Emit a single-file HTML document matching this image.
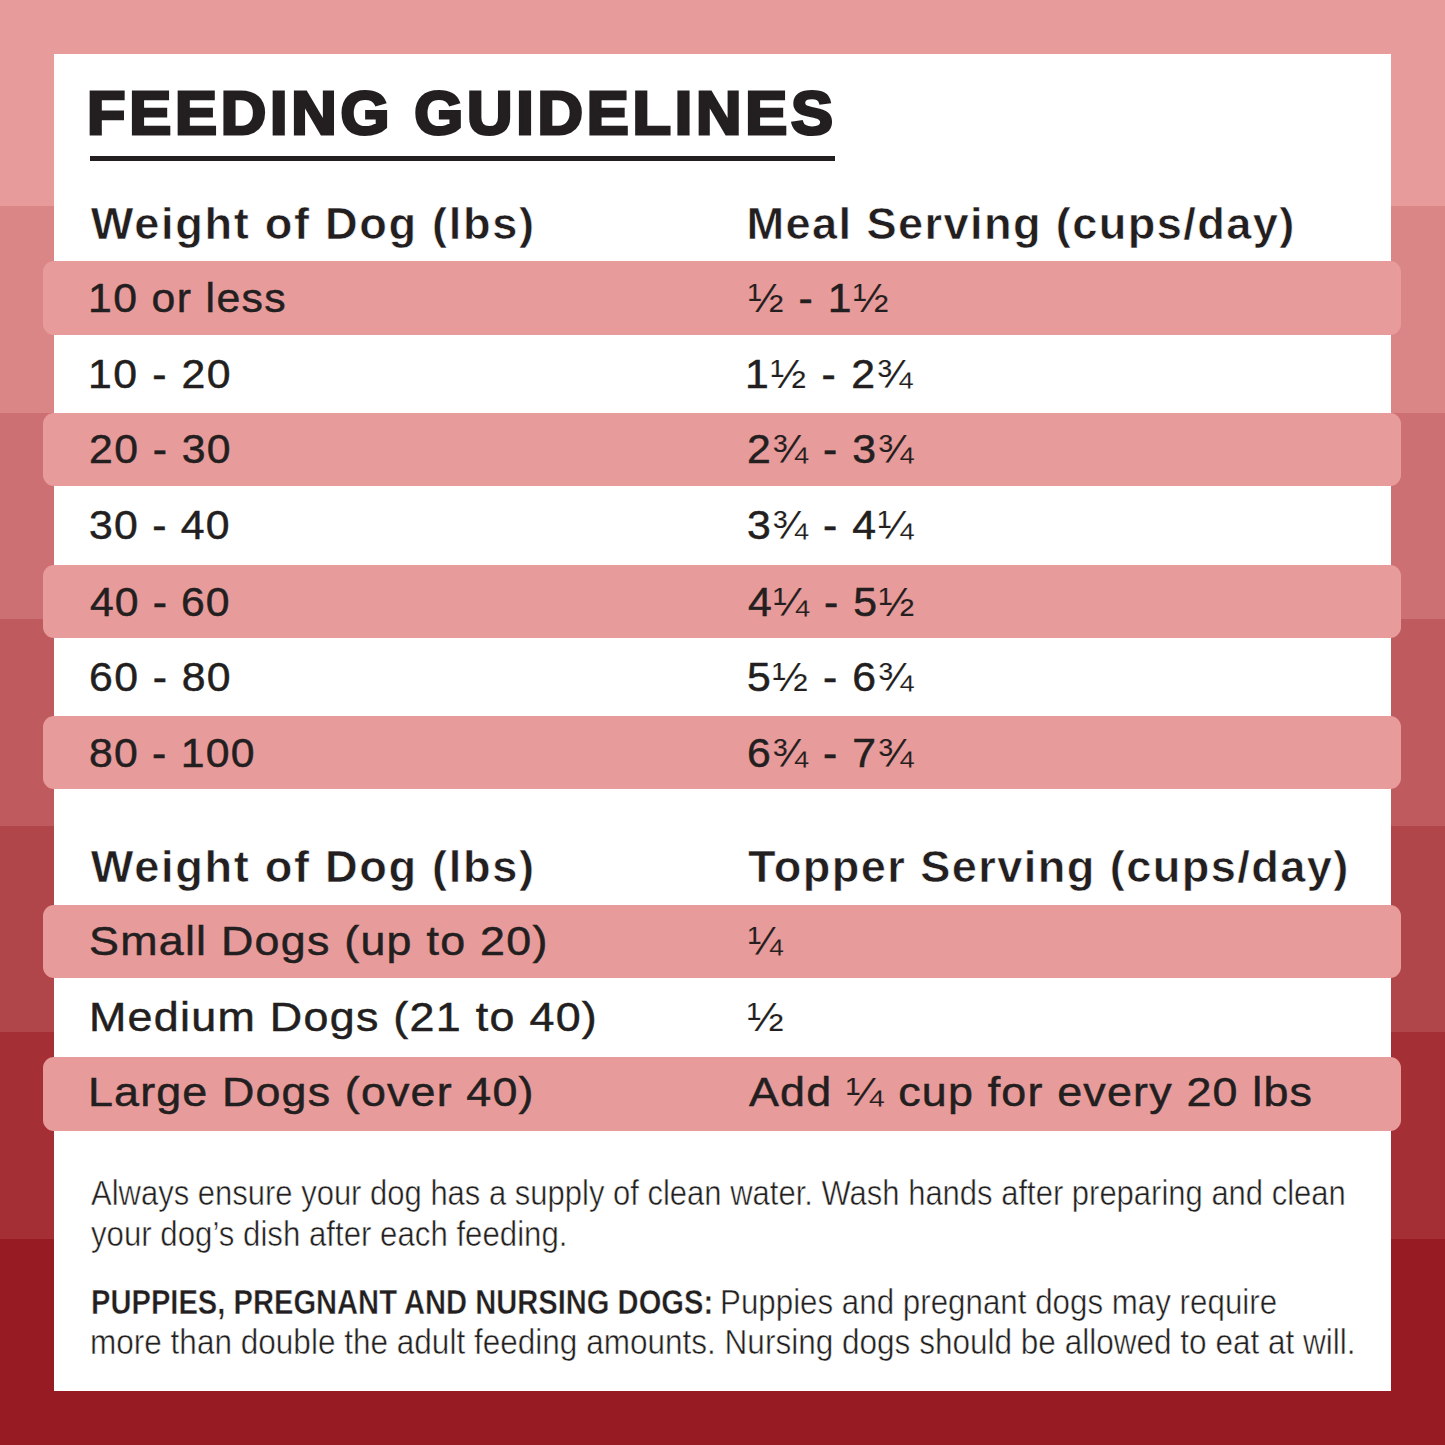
<!DOCTYPE html>
<html><head><meta charset="utf-8"><style>
html,body{margin:0;padding:0;}
body{width:1445px;height:1445px;position:relative;overflow:hidden;font-family:"Liberation Sans",sans-serif;}
.b{position:absolute;left:0;width:1445px;}
.card{position:absolute;left:54px;top:54px;width:1336.8px;height:1336.8px;background:#fff;}
.ul{position:absolute;left:90.4px;top:156px;width:745px;height:5px;background:#231f20;}
.row{position:absolute;left:43px;width:1358px;height:73.2px;border-radius:11px;background:#E89B9B;}
.t{position:absolute;white-space:nowrap;line-height:1;transform-origin:0 0;}
b{font-weight:700;}
</style></head><body>
<div class="b" style="top:0px;height:206px;background:#E89B9B"></div>
<div class="b" style="top:206px;height:207px;background:#DA8687"></div>
<div class="b" style="top:413px;height:206px;background:#CD7073"></div>
<div class="b" style="top:619px;height:207px;background:#BF5B5F"></div>
<div class="b" style="top:826px;height:206px;background:#B1464A"></div>
<div class="b" style="top:1032px;height:207px;background:#A43036"></div>
<div class="b" style="top:1239px;height:206px;background:#961B22"></div>
<div class="card"></div>
<div class="ul"></div>
<div class="row" style="top:261.4px"></div>
<div class="row" style="top:412.8px"></div>
<div class="row" style="top:564.6px"></div>
<div class="row" style="top:716.3px"></div>
<div class="row" style="top:904.5px"></div>
<div class="row" style="top:1057.4px"></div>
<div class="t" id="title" style="left:86.94px;top:82.66px;font-size:60.5px;font-weight:700;color:#231f20;transform:scaleX(1.0400);letter-spacing:3.632px;-webkit-text-stroke:3.0px #231f20;">FEEDING GUIDELINES</div>
<div class="t" id="h1l" style="left:90.80px;top:201.14px;font-size:45.2px;font-weight:700;color:#231f20;transform:scaleX(1.0000);letter-spacing:1.661px;-webkit-text-stroke:0.6px #fff;paint-order:fill stroke;">Weight of Dog (lbs)</div>
<div class="t" id="h1r" style="left:746.40px;top:201.14px;font-size:45.2px;font-weight:700;color:#231f20;transform:scaleX(1.0000);letter-spacing:1.395px;-webkit-text-stroke:0.6px #fff;paint-order:fill stroke;">Meal Serving (cups/day)</div>
<div class="t" id="r0l" style="left:87.58px;top:276.87px;font-size:41.5px;font-weight:400;color:#231f20;transform:scaleX(1.0300);letter-spacing:1.329px;-webkit-text-stroke:0.5px #231f20;">10 or less</div>
<div class="t" id="r0r" style="left:747.77px;top:276.87px;font-size:41.5px;font-weight:400;color:#231f20;transform:scaleX(1.0300);letter-spacing:1.487px;-webkit-text-stroke:0.5px #231f20;"><span style="-webkit-text-stroke:0.15px #E89B9B;paint-order:fill stroke">½</span> - 1<span style="-webkit-text-stroke:0.15px #E89B9B;paint-order:fill stroke">½</span></div>
<div class="t" id="r1l" style="left:87.58px;top:353.07px;font-size:41.5px;font-weight:400;color:#231f20;transform:scaleX(1.0300);letter-spacing:1.545px;-webkit-text-stroke:0.5px #231f20;">10 - 20</div>
<div class="t" id="r1r" style="left:745.40px;top:353.07px;font-size:41.5px;font-weight:400;color:#231f20;transform:scaleX(1.0300);letter-spacing:1.699px;-webkit-text-stroke:0.5px #231f20;">1<span style="-webkit-text-stroke:0.15px #fff;paint-order:fill stroke">½</span> - 2<span style="-webkit-text-stroke:0.15px #fff;paint-order:fill stroke">¾</span></div>
<div class="t" id="r2l" style="left:88.86px;top:428.27px;font-size:41.5px;font-weight:400;color:#231f20;transform:scaleX(1.0300);letter-spacing:1.379px;-webkit-text-stroke:0.5px #231f20;">20 - 30</div>
<div class="t" id="r2r" style="left:746.68px;top:428.27px;font-size:41.5px;font-weight:400;color:#231f20;transform:scaleX(1.0300);letter-spacing:1.532px;-webkit-text-stroke:0.5px #231f20;">2<span style="-webkit-text-stroke:0.15px #E89B9B;paint-order:fill stroke">¾</span> - 3<span style="-webkit-text-stroke:0.15px #E89B9B;paint-order:fill stroke">¾</span></div>
<div class="t" id="r3l" style="left:88.90px;top:504.47px;font-size:41.5px;font-weight:400;color:#231f20;transform:scaleX(1.0300);letter-spacing:1.212px;-webkit-text-stroke:0.5px #231f20;">30 - 40</div>
<div class="t" id="r3r" style="left:746.71px;top:504.47px;font-size:41.5px;font-weight:400;color:#231f20;transform:scaleX(1.0300);letter-spacing:1.532px;-webkit-text-stroke:0.5px #231f20;">3<span style="-webkit-text-stroke:0.15px #fff;paint-order:fill stroke">¾</span> - 4<span style="-webkit-text-stroke:0.15px #fff;paint-order:fill stroke">¼</span></div>
<div class="t" id="r4l" style="left:90.08px;top:580.67px;font-size:41.5px;font-weight:400;color:#231f20;transform:scaleX(1.0300);letter-spacing:1.045px;-webkit-text-stroke:0.5px #231f20;">40 - 60</div>
<div class="t" id="r4r" style="left:747.84px;top:580.67px;font-size:41.5px;font-weight:400;color:#231f20;transform:scaleX(1.0300);letter-spacing:1.532px;-webkit-text-stroke:0.5px #231f20;">4<span style="-webkit-text-stroke:0.15px #E89B9B;paint-order:fill stroke">¼</span> - 5<span style="-webkit-text-stroke:0.15px #E89B9B;paint-order:fill stroke">½</span></div>
<div class="t" id="r5l" style="left:88.79px;top:655.87px;font-size:41.5px;font-weight:400;color:#231f20;transform:scaleX(1.0300);letter-spacing:1.379px;-webkit-text-stroke:0.5px #231f20;">60 - 80</div>
<div class="t" id="r5r" style="left:746.71px;top:655.87px;font-size:41.5px;font-weight:400;color:#231f20;transform:scaleX(1.0300);letter-spacing:1.532px;-webkit-text-stroke:0.5px #231f20;">5<span style="-webkit-text-stroke:0.15px #fff;paint-order:fill stroke">½</span> - 6<span style="-webkit-text-stroke:0.15px #fff;paint-order:fill stroke">¾</span></div>
<div class="t" id="r6l" style="left:88.90px;top:732.07px;font-size:41.5px;font-weight:400;color:#231f20;transform:scaleX(1.0300);letter-spacing:1.193px;-webkit-text-stroke:0.5px #231f20;">80 - 100</div>
<div class="t" id="r6r" style="left:746.62px;top:732.07px;font-size:41.5px;font-weight:400;color:#231f20;transform:scaleX(1.0300);letter-spacing:1.532px;-webkit-text-stroke:0.5px #231f20;">6<span style="-webkit-text-stroke:0.15px #E89B9B;paint-order:fill stroke">¾</span> - 7<span style="-webkit-text-stroke:0.15px #E89B9B;paint-order:fill stroke">¾</span></div>
<div class="t" id="h2l" style="left:90.80px;top:844.14px;font-size:45.2px;font-weight:700;color:#231f20;transform:scaleX(1.0000);letter-spacing:1.661px;-webkit-text-stroke:0.6px #fff;paint-order:fill stroke;">Weight of Dog (lbs)</div>
<div class="t" id="h2r" style="left:748.00px;top:844.14px;font-size:45.2px;font-weight:700;color:#231f20;transform:scaleX(1.0000);letter-spacing:1.408px;-webkit-text-stroke:0.6px #fff;paint-order:fill stroke;">Topper Serving (cups/day)</div>
<div class="t" id="t0l" style="left:88.97px;top:920.27px;font-size:41.5px;font-weight:400;color:#231f20;transform:scaleX(1.0800);letter-spacing:1.151px;-webkit-text-stroke:0.5px #231f20;">Small Dogs (up to 20)</div>
<div class="t" id="t0r" style="left:748.03px;top:920.27px;font-size:41.5px;font-weight:400;color:#231f20;transform:scaleX(1.0000);letter-spacing:0.000px;-webkit-text-stroke:0.5px #231f20;"><span style="-webkit-text-stroke:0.15px #E89B9B;paint-order:fill stroke">¼</span></div>
<div class="t" id="t1l" style="left:88.59px;top:995.87px;font-size:41.5px;font-weight:400;color:#231f20;transform:scaleX(1.0800);letter-spacing:1.190px;-webkit-text-stroke:0.5px #231f20;">Medium Dogs (21 to 40)</div>
<div class="t" id="t1r" style="left:747.33px;top:995.87px;font-size:41.5px;font-weight:400;color:#231f20;transform:scaleX(1.0625);letter-spacing:0.000px;-webkit-text-stroke:0.5px #231f20;"><span style="-webkit-text-stroke:0.15px #fff;paint-order:fill stroke">½</span></div>
<div class="t" id="t2l" style="left:88.37px;top:1071.47px;font-size:41.5px;font-weight:400;color:#231f20;transform:scaleX(1.0800);letter-spacing:1.069px;-webkit-text-stroke:0.5px #231f20;">Large Dogs (over 40)</div>
<div class="t" id="t2r" style="left:749.00px;top:1071.47px;font-size:41.5px;font-weight:400;color:#231f20;transform:scaleX(1.0800);letter-spacing:1.106px;-webkit-text-stroke:0.5px #231f20;">Add <span style="-webkit-text-stroke:0.15px #E89B9B;paint-order:fill stroke">¼</span> cup for every 20 lbs</div>
<div class="t" id="f1" style="left:90.99px;top:1176.14px;font-size:34.4px;font-weight:400;color:#231f20;transform:scaleX(0.9012);letter-spacing:0.000px;-webkit-text-stroke:0.5px #fff;paint-order:fill stroke;">Always ensure your dog has a supply of clean water. Wash hands after preparing and clean</div>
<div class="t" id="f2" style="left:90.96px;top:1217.14px;font-size:34.4px;font-weight:400;color:#231f20;transform:scaleX(0.9073);letter-spacing:0.000px;-webkit-text-stroke:0.5px #fff;paint-order:fill stroke;">your dog’s dish after each feeding.</div>
<div class="t" id="f3a" style="left:90.97px;top:1284.54px;font-size:34.4px;font-weight:700;color:#231f20;transform:scaleX(0.8471);letter-spacing:0.000px;-webkit-text-stroke:0.4px #fff;paint-order:fill stroke;">PUPPIES, PREGNANT AND NURSING DOGS:</div>
<div class="t" id="f3b" style="left:719.51px;top:1284.54px;font-size:34.4px;font-weight:400;color:#231f20;transform:scaleX(0.9106);letter-spacing:0.000px;-webkit-text-stroke:0.5px #fff;paint-order:fill stroke;">Puppies and pregnant dogs may require</div>
<div class="t" id="f4" style="left:89.89px;top:1325.14px;font-size:34.4px;font-weight:400;color:#231f20;transform:scaleX(0.9169);letter-spacing:0.000px;-webkit-text-stroke:0.5px #fff;paint-order:fill stroke;">more than double the adult feeding amounts. Nursing dogs should be allowed to eat at will.</div>
</body></html>
